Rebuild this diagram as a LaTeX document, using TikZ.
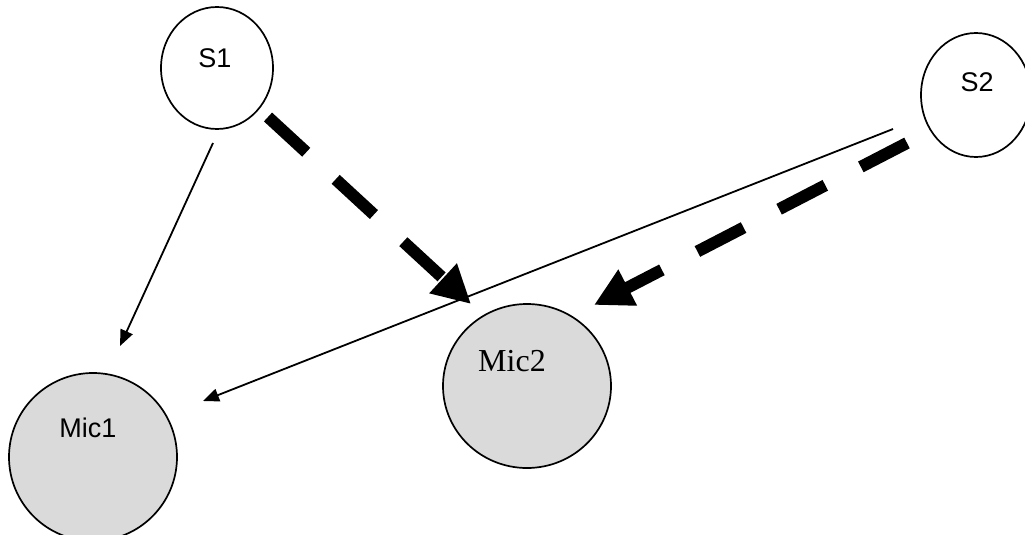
\documentclass[tikz,border=0pt]{standalone}
\usepackage{fontspec}
\setmainfont{Liberation Serif}
\newfontfamily\arialfont{Liberation Sans}
\usetikzlibrary{arrows.meta,shapes.geometric}
\definecolor{micgray}{RGB}{218,218,218}
\begin{document}
\begin{tikzpicture}[x=1pt,y=-1pt,
  source/.style={ellipse, draw, line width=1.7pt, inner sep=0pt, minimum width=112pt, minimum height=122pt},
  micro/.style={ellipse, draw, fill=micgray, line width=1.7pt, inner sep=0pt},
  sanslabel/.style={font=\arialfont\fontsize{27}{32}\selectfont, inner sep=0pt},
  seriflabel/.style={font=\fontsize{32}{38}\selectfont, inner sep=0pt},
  direct/.style={line width=1.8pt, -{Triangle[length=16pt,width=13pt]}},
  crosstalk/.style={line width=12pt, dash pattern=on 52pt off 40pt, -{Triangle[length=38pt,width=38pt]}}]
  \useasboundingbox (0,0) rectangle (1025,535);

  % sources and microphones
  \node[source] (s1) at (217,68) {};
  \node[source, minimum width=110pt, minimum height=124pt] (s2) at (976,95) {};
  \node[micro, minimum width=168pt, minimum height=168pt] (m1) at (93,457) {};
  \node[micro, minimum width=168pt, minimum height=164pt] (m2) at (527,386) {};

  % labels
  \node[sanslabel] (s1t) at (215,58) {S1};
  \node[sanslabel] (s2t) at (977,82) {S2};
  \node[sanslabel] (m1t) at (88,428) {Mic1};
  \node[seriflabel] (m2t) at (512,361) {Mic2};

  % connector end points
  \coordinate (s1a) at (213,143);
  \coordinate (m1a) at (120,346);
  \coordinate (s2a) at (893,129);
  \coordinate (m1b) at (203,401);
  \coordinate (s1b) at (268,117);
  \coordinate (m2a) at (471,304);
  \coordinate (s2b) at (907,143);
  \coordinate (m2b) at (594,305);

  % direct paths
  \draw[direct] (s1a) -- (m1a);
  \draw[direct] (s2a) -- (m1b);
  % cross paths
  \draw[crosstalk] (s1b) -- (m2a);
  \draw[crosstalk] (s2b) -- (m2b);
\end{tikzpicture}
\end{document}
